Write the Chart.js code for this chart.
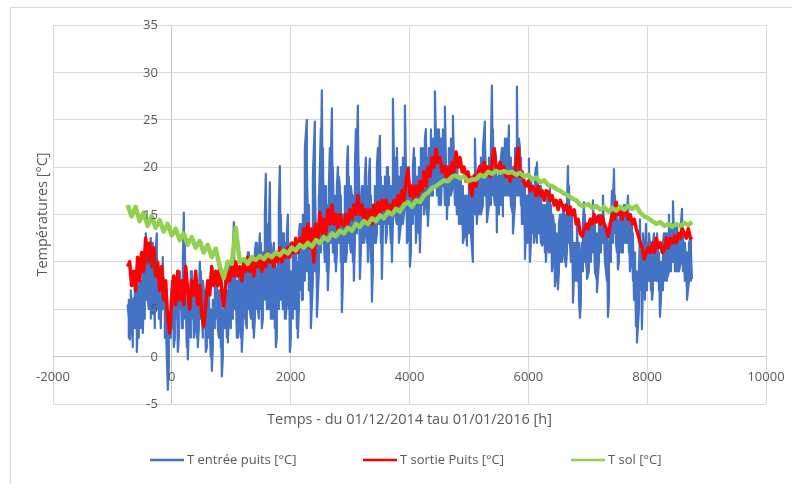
<!DOCTYPE html>
<html>
<head>
<meta charset="utf-8">
<script src="https://cdn.jsdelivr.net/npm/chart.js@4"></script>
<style>
  html, body { margin: 0; padding: 0; background: #ffffff; }
  #c { display: block; }
</style>
</head>
<body>
<canvas id="c" width="792" height="484" style="width:792px;height:484px"></canvas>
<script>
// ---------------- DATA ----------------
const seriesNames = ['T entrée puits [°C]', 'T sortie Puits [°C]', 'T sol [°C]'];
const xTickLabels = [-2000, 0, 2000, 4000, 6000, 8000, 10000];
const yTickLabels = [-5, 0, 5, 10, 15, 20, 25, 30, 35];
const xTitle = 'Temps - du 01/12/2014 tau 01/01/2016 [h]';
const yTitle = 'Températures [°C]';

// T entrée puits : peaks and troughs (hours, temperatures)
const entreeHours = [
  -744,-724,-707,-673,-640,-623,-589,-556,-539,-505,-488,-455,-438,-404,-370,-354,-320,-286,-253,-219,-185,-152,-118,-84,-67,-34,
  0,34,67,101,135,168,202,236,269,303,
  337,370,404,438,471,505,539,572,606,640,
  673,707,741,774,808,842,875,909,943,976,
  1010,1044,1077,1111,1145,1178,1212,1246,1279,1313,
  1347,1380,1414,1448,1481,1515,1549,1582,1616,1650,
  1684,1717,1751,1785,1818,1852,1886,1919,1953,1987,
  2020,2054,2088,2121,2155,2189,
  2239,2272,2306,2340,2374,2407,2441,2475,2508,2525,
  2559,2593,2626,2660,2694,2727,2761,2795,2828,2862,
  2896,2929,2963,2997,3030,3064,3098,3131,3165,3199,
  3232,3266,3300,3333,3367,3401,3434,3468,3502,3535,
  3569,3603,3636,3670,3704,3721,3754,3788,3822,3855,
  3889,3923,3956,3990,4007,4040,4074,4108,4141,4175,
  4209,4242,4276,4310,4343,4377,4428,4461,4495,4529,
  4562,4596,4630,4663,4697,4731,4764,4798,4832,4865,
  4899,4933,4966,5000,5034,5067,5101,5135,5168,5202,
  5236,5269,5303,5337,5370,5387,5421,5454,5471,5505,
  5556,5572,5606,5640,5673,5707,5741,5775,5808,5825,
  5859,5892,5926,5943,5976,6010,6027,6061,6095,6128,
  6145,6178,6212,6229,6263,6296,6330,6364,6397,6431,
  6448,6481,6498,6532,6566,6599,6633,6667,6700,6734,
  6751,6784,6818,6852,6869,6902,6936,6970,6987,7020,
  7054,7088,7121,7155,7189,7222,7256,7290,7340,7374,
  7407,7441,7475,7508,7542,7576,7609,7643,7677,7710,
  7744,7778,7811,7828,7862,7879,7912,7946,7980,8013,
  8047,8081,8114,8148,8182,8215,8249,8283,8333,8367,
  8401,8434,8468,8502,8535,8586,8620,8670,8704,8721,8754
];
const entreeTemps = [
  5.5,4.0,1.8,5.0,6.2,3.0,0.5,6.0,8.5,4.0,2.5,11.0,13.0,6.0,9.0,12.5,4.5,10.0,13.0,7.0,3.5,10.5,7.0,0.0,-3.5,2.0,
  8.0,1.0,6.0,0.5,9.0,3.0,15.2,5.0,-0.3,6.0,
  9.0,2.0,7.5,1.0,10.0,4.5,7.0,0.5,6.5,2.5,
  -1.5,5.0,9.0,3.0,7.0,-2.1,4.0,8.0,1.5,10.0,
  4.0,14.2,7.0,2.0,9.0,0.5,8.0,3.5,11.0,5.0,
  9.5,2.0,12.0,5.0,13.0,3.0,11.0,19.3,6.0,18.4,
  4.0,12.0,1.0,10.0,20.1,8.0,13.0,4.0,15.0,0.5,
  9.0,5.0,12.0,2.0,14.0,6.0,
  22.0,25.0,10.0,3.0,19.0,24.8,4.2,16.0,24.0,28.1,
  12.0,18.0,7.0,22.0,26.2,14.0,9.0,20.0,18.0,4.7,
  15.0,10.0,22.2,12.0,17.0,8.0,24.0,26.5,8.2,18.0,
  12.0,21.0,10.0,20.9,5.8,16.0,12.0,22.0,23.3,8.2,
  18.0,12.0,20.0,14.0,10.0,27.2,15.0,22.0,12.0,20.0,
  14.0,26.5,12.0,20.0,9.5,16.0,22.0,12.0,18.0,11.0,
  20.0,15.0,24.0,13.8,22.0,17.0,28.0,18.0,24.0,16.0,
  22.0,26.4,14.5,20.0,17.0,25.4,16.0,21.0,14.0,19.0,
  12.0,17.0,11.7,18.0,13.0,10.0,23.0,14.0,19.0,15.0,
  22.0,24.8,14.2,20.0,16.0,28.6,17.0,21.0,13.1,18.0,
  22.0,14.8,23.0,17.0,24.4,16.0,13.0,21.0,28.5,18.0,
  22.0,14.0,19.0,10.3,16.0,20.9,10.0,17.0,12.0,20.0,
  20.5,13.0,18.0,11.7,16.0,10.0,15.0,18.0,9.0,14.0,
  7.4,12.0,7.1,15.0,10.0,16.0,9.5,20.1,12.0,15.0,
  5.7,11.0,14.0,6.0,4.1,12.0,16.3,10.0,8.2,14.0,
  11.0,16.5,9.0,6.8,15.0,12.0,17.0,10.0,4.2,14.0,
  17.5,19.8,12.0,9.2,15.0,11.0,16.0,13.0,17.0,9.0,
  14.0,6.0,3.2,1.5,8.0,14.5,2.9,10.0,14.0,8.0,
  12.0,6.0,13.0,9.0,11.0,4.2,10.0,13.0,8.2,15.0,
  10.0,16.4,11.0,14.0,9.0,15.6,10.0,6.0,12.0,12.4,8.2
];
// T entrée puits : lower and upper edge of the dense hourly band, regularly spaced
const entreeBandFirstHour = -724;
const entreeBandLastHour = 8737;
const entreeBandLow = [
  2,3,1,3,4,2,3,5,4,6,5,4,6,3,5,4,3,5,2,0,-1,2,
  3,2,4,2,5,3,4,1,3,2,   4,3,2,3,4,2,3,1,2,0,   1,3,4,2,1,0,3,2,4,3,   4,5,2,3,2,3,4,3,5,4,
  3,4,5,4,5,4,6,5,5,4,   4,3,2,5,6,5,4,6,5,2,   4,5,3,5,7,6,8,9,7,5,   8,9,7,9,11,12,10,9,10,12,
  11,10,11,12,10,8,10,11,12,11,   10,12,13,14,11,12,13,12,13,10,   9,12,13,14,12,13,14,13,14,12,
  14,15,14,13,14,15,16,14,13,11,  14,15,14,13,15,16,16,15,16,17,   17,18,17,16,17,18,16,15,16,17,
  18,16,15,15,14,13,13,12,13,13,  12,15,14,15,15,16,17,15,16,17,   17,16,14,15,16,16,17,18,17,16,
  15,16,17,17,16,14,12,12,12,12,  13,13,12,13,12,12,11,12,11,11,   10,8,8,9,10,11,10,11,12,10,
  7,8,8,7,6,9,10,9,9,10,  11,9,8,10,11,12,10,8,6,10,  12,13,11,10,11,11,12,12,11,10,
  8,6,4,5,7,8,6,7,8,7,  7,8,8,7,6,7,8,8,9,9,  10,9,9,9,10,9,8,7,8,8
];
const entreeBandHigh = [
  6,7,5,8,9,7,8,11,10,12,11,9,12,8,10,9,8,9,7,4,3,6,
  7,6,8,9,7,10,12,6,7,9,   8,7,8,6,9,8,7,6,7,5,   6,8,9,7,6,5,8,7,9,10,   11,10,8,9,8,9,10,9,11,10,
  9,11,12,11,12,11,15,14,13,12,   11,10,9,16,15,13,12,13,12,9,   11,12,10,13,14,15,18,20,16,12,
  17,19,14,17,20,22,18,16,18,21,   20,17,18,19,17,15,18,20,19,18,   17,20,22,20,16,18,19,18,19,17,
  16,18,20,21,19,18,19,20,19,18,   22,21,20,19,20,21,22,20,19,17,   20,21,19,20,22,22,23,21,22,24,
  23,25,24,22,23,24,21,20,22,23,   23,21,20,19,18,18,17,17,18,19,   18,21,19,20,21,22,23,20,21,22,
  24,22,19,20,21,22,22,23,22,21,   20,22,24,23,21,19,18,17,18,19,   18,19,18,17,17,16,16,17,16,16,
  15,14,13,14,15,16,15,16,18,15,   12,12,13,12,11,14,15,14,13,14,   15,14,13,14,15,16,14,13,11,14,
  16,17,15,14,15,15,16,15,15,14,   13,11,9,10,12,13,11,12,13,12,   12,12,13,11,10,12,13,13,14,14,
  15,14,13,13,14,13,12,11,12,11
];

// T sortie Puits : regularly spaced readings from the first to the last hour
const sortieFirstHour = -744;
const sortieLastHour = 8760;
const sortieTemps = [
  9.5,10.0,7.5,9.0,7.0,10.5,8.0,11.0,9.0,12.5,10.0,12.0,9.5,11.5,8.5,10.0,7.0,9.5,6.0,8.0,
  4.0,2.5,6.0,8.5,5.5,9.0,6.0,8.0,5.5,9.5,7.0,5.0,8.0,6.5,9.0,5.5,7.5,4.5,3.2,5.5,
  8.0,6.5,9.5,7.5,9.0,7.5,9.5,7.0,5.3,7.5,9.0,8.0,9.5,8.5,10.0,8.5,9.5,8.0,10.0,9.0,
  10.5,9.0,10.0,8.5,10.5,9.5,10.5,9.0,10.5,9.5,11.0,10.0,10.5,9.5,11.0,10.0,11.5,10.0,11.0,10.5,
  11.5,10.5,12.0,11.0,12.5,11.0,12.5,11.5,13.5,12.0,14.0,11.5,13.5,10.0,14.0,12.5,15.2,13.0,14.5,13.0,
  15.5,14.0,16.0,14.0,15.0,13.5,15.0,14.0,13.8,15.0,14.0,15.5,14.5,16.0,15.0,17.0,15.0,16.0,14.5,15.5,
  14.0,15.5,14.0,16.0,15.0,16.3,15.0,16.5,15.5,16.5,15.5,16.0,15.0,16.5,15.5,17.0,16.0,17.5,16.5,18.5,
  19.8,17.0,18.0,16.6,18.0,17.0,18.5,17.5,19.5,18.0,20.0,19.0,21.0,20.0,21.9,20.5,21.0,19.5,20.1,19.0,
  20.0,19.0,20.5,19.5,21.6,20.0,21.0,19.5,20.0,18.5,19.5,18.0,17.0,19.1,18.0,19.5,20.1,19.0,20.5,19.5,
  20.0,19.0,20.5,21.9,20.0,19.5,20.5,19.5,20.0,19.0,19.5,18.5,19.5,19.0,20.5,22.0,19.0,19.5,18.4,18.0,
  18.5,17.5,18.0,17.7,17.0,18.0,17.0,17.5,16.5,17.5,17.4,16.5,17.0,16.0,16.5,15.5,16.5,16.0,15.5,16.0,
  15.0,15.8,15.0,15.5,14.0,14.5,13.0,12.7,13.5,14.0,13.5,14.5,14.0,15.0,14.2,14.8,14.0,14.8,14.0,13.5,
  12.7,14.0,15.0,14.5,16.3,15.0,15.5,14.5,15.5,15.2,14.5,15.0,14.0,14.5,13.5,12.8,12.0,11.5,10.3,11.0,
  11.5,11.0,12.0,11.0,12.5,11.5,12.0,11.0,11.3,12.5,11.5,12.5,12.0,12.7,12.0,13.0,12.5,13.5,13.0,12.5,13.5,12.5,12.6
];

// T sol : regularly spaced readings from the first to the last hour
const solFirstHour = -744;
const solLastHour = 8760;
const solTemps = [
  16.0,14.8,15.8,14.3,15.2,13.8,14.8,13.6,14.4,13.2,
  14.0,12.8,13.5,12.3,13.0,11.8,12.6,11.5,12.2,11.0,
  11.8,10.5,11.4,9.5,8.3,10.0,9.8,13.6,10.0,10.3,
  9.8,10.5,10.2,10.6,10.3,10.8,10.5,11.0,10.7,11.2,
  10.9,11.5,11.2,11.8,11.5,12.0,11.6,12.3,12.0,12.6,
  12.3,13.0,12.7,13.3,13.0,13.6,13.3,14.0,13.7,14.3,
  14.0,14.6,14.3,14.9,14.6,15.3,15.0,15.6,15.3,16.0,
  16.3,15.8,16.5,16.3,17.0,17.3,17.8,18.0,18.3,18.6,
  18.5,19.0,19.1,18.8,19.0,18.5,18.7,18.7,19.2,19.0,
  19.5,19.3,19.6,19.4,19.6,19.4,19.5,19.2,19.4,19.0,
  19.2,18.7,18.9,18.4,18.6,18.1,18.0,17.7,17.5,17.2,
  17.0,16.7,16.5,16.0,15.9,16.1,15.7,15.9,15.5,15.8,
  15.3,15.7,15.4,15.8,15.5,15.9,15.6,15.9,15.2,14.8,
  14.6,14.3,14.0,14.2,13.8,14.0,13.7,14.0,13.8,14.1,
  13.9,14.2
];

// ---------------- STYLE ----------------
const COLORS = { entree: '#4472C4', sortie: '#FF0000', sol: '#92D050' };
const TEXT = '#595959';
const GRID = '#d9d9d9';
const FONT = '"Open Sans", "Liberation Sans", Arial, sans-serif';

function regular(temps, first, last) {
  const step = (last - first) / (temps.length - 1);
  return temps.map((t, i) => ({ x: first + i * step, y: t }));
}
const entreePoints = entreeHours.map((h, i) => ({ x: h, y: entreeTemps[i] }))
  .concat(regular(entreeBandLow, entreeBandFirstHour, entreeBandLastHour))
  .concat(regular(entreeBandHigh, entreeBandFirstHour, entreeBandLastHour))
  .sort((a, b) => a.x - b.x);
const sortiePoints = regular(sortieTemps, sortieFirstHour, sortieLastHour);
const solPoints = regular(solTemps, solFirstHour, solLastHour);

const framePlugin = {
  id: 'frame',
  beforeDraw(chart) {
    const c = chart.ctx;
    c.save();
    c.fillStyle = '#ffffff';
    c.fillRect(0, 0, chart.width, chart.height);
    c.strokeStyle = GRID;
    c.lineWidth = 1;
    c.strokeRect(10.5, 7.5, chart.width + 20, chart.height + 20);
    c.restore();
  }
};

const labelPlugin = {
  id: 'labels',
  afterDatasetsDraw(chart) {
    const c = chart.ctx;
    const xs = chart.scales.x, ys = chart.scales.y;
    const a = chart.chartArea;
    c.save();
    c.fillStyle = TEXT;
    c.font = '13px ' + FONT;
    c.textAlign = 'right';
    c.textBaseline = 'middle';
    const x0 = xs.getPixelForValue(0);
    yTickLabels.forEach(v => c.fillText(String(v), x0 - 14, ys.getPixelForValue(v) + 0.5));
    c.textAlign = 'center';
    const y0 = ys.getPixelForValue(0);
    xTickLabels.forEach(v => c.fillText(String(v), xs.getPixelForValue(v), y0 + 21));
    c.font = '14.5px ' + FONT;
    c.fillText(xTitle, (a.left + a.right) / 2, a.bottom + 16);
    c.save();
    c.translate(43, (a.top + a.bottom) / 2);
    c.rotate(-Math.PI / 2);
    c.fillText(yTitle, 0, 0);
    c.restore();
    c.font = '13px ' + FONT;
    c.textAlign = 'left';
    const ly = 460;
    const items = [
      { name: seriesNames[0], color: COLORS.entree, x: 150 },
      { name: seriesNames[1], color: COLORS.sortie, x: 363 },
      { name: seriesNames[2], color: COLORS.sol, x: 571 }
    ];
    items.forEach(it => {
      c.strokeStyle = it.color;
      c.lineWidth = 2.5;
      c.beginPath();
      c.moveTo(it.x, ly);
      c.lineTo(it.x + 34, ly);
      c.stroke();
      c.fillText(it.name, it.x + 37, ly + 0.5);
    });
    c.restore();
  }
};

const gridColor = ctx => (ctx.tick && ctx.tick.value === 0) ? '#c4c4c4' : GRID;

new Chart(document.getElementById('c'), {
  type: 'line',
  data: {
    datasets: [
      { label: seriesNames[0], data: entreePoints, borderColor: COLORS.entree, backgroundColor: COLORS.entree,
        borderWidth: 2.2, order: 3 },
      { label: seriesNames[1], data: sortiePoints, borderColor: COLORS.sortie, backgroundColor: COLORS.sortie,
        borderWidth: 3.5, order: 2 },
      { label: seriesNames[2], data: solPoints, borderColor: COLORS.sol, backgroundColor: COLORS.sol,
        borderWidth: 4.5, order: 1 }
    ]
  },
  options: {
    responsive: false,
    animation: false,
    events: [],
    layout: { padding: { left: 53, right: 26, top: 25, bottom: 80 } },
    elements: { point: { radius: 0 }, line: { tension: 0, borderJoinStyle: 'round' } },
    plugins: { legend: { display: false }, tooltip: { enabled: false } },
    scales: {
      x: {
        type: 'linear', min: -2000, max: 10000,
        ticks: { stepSize: 2000, display: false },
        grid: { color: gridColor, drawTicks: false, lineWidth: 1 },
        border: { display: false }
      },
      y: {
        type: 'linear', min: -5, max: 35,
        ticks: { stepSize: 5, display: false },
        grid: { color: gridColor, drawTicks: false, lineWidth: 1 },
        border: { display: false }
      }
    }
  },
  plugins: [framePlugin, labelPlugin]
});
</script>
</body>
</html>
